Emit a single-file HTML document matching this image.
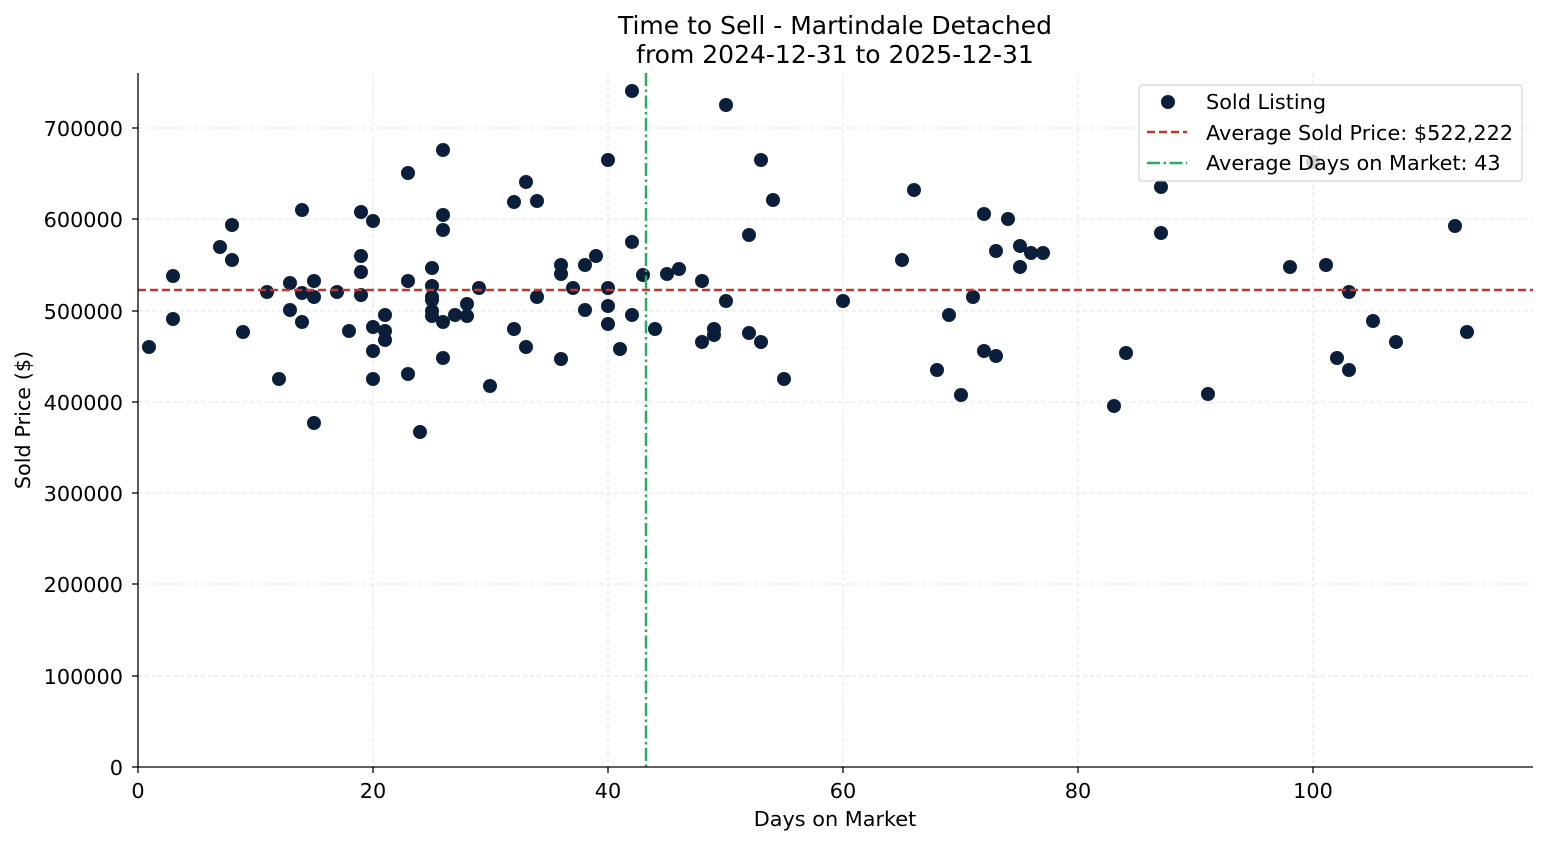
<!DOCTYPE html>
<html><head><meta charset="utf-8"><style>body{margin:0;background:#fff}svg{display:block}text{font-family:"DejaVu Sans","Liberation Sans",sans-serif;fill:#000}</style></head><body>
<svg width="1547" height="845" xmlns="http://www.w3.org/2000/svg">
<rect width="1547" height="845" fill="#fff"/>
<g stroke="#d9d9d9" stroke-width="0.8" stroke-dasharray="4,3">
<line x1="373" y1="73" x2="373" y2="767"/><line x1="608" y1="73" x2="608" y2="767"/><line x1="843" y1="73" x2="843" y2="767"/><line x1="1078" y1="73" x2="1078" y2="767"/><line x1="1313" y1="73" x2="1313" y2="767"/>
<line x1="138" y1="676" x2="1533" y2="676"/><line x1="138" y1="584" x2="1533" y2="584"/><line x1="138" y1="493" x2="1533" y2="493"/><line x1="138" y1="402" x2="1533" y2="402"/><line x1="138" y1="311" x2="1533" y2="311"/><line x1="138" y1="219" x2="1533" y2="219"/><line x1="138" y1="128" x2="1533" y2="128"/>
</g>
<g fill="#0b1f3b">
<circle cx="149" cy="347" r="7"/><circle cx="173" cy="276" r="7"/><circle cx="173" cy="319" r="7"/><circle cx="220" cy="247" r="7"/><circle cx="232" cy="225" r="7"/><circle cx="232" cy="260" r="7"/><circle cx="243" cy="332" r="7"/><circle cx="267" cy="292" r="7"/><circle cx="279" cy="379" r="7"/><circle cx="290" cy="283" r="7"/><circle cx="290" cy="310" r="7"/><circle cx="302" cy="210" r="7"/><circle cx="302" cy="293" r="7"/><circle cx="302" cy="322" r="7"/><circle cx="314" cy="281" r="7"/><circle cx="314" cy="297" r="7"/><circle cx="314" cy="423" r="7"/><circle cx="337" cy="292" r="7"/><circle cx="349" cy="331" r="7"/><circle cx="361" cy="212" r="7"/><circle cx="361" cy="256" r="7"/><circle cx="361" cy="272" r="7"/><circle cx="361" cy="295" r="7"/><circle cx="373" cy="221" r="7"/><circle cx="373" cy="327" r="7"/><circle cx="373" cy="351" r="7"/><circle cx="373" cy="379" r="7"/><circle cx="385" cy="315" r="7"/><circle cx="385" cy="331" r="7"/><circle cx="385" cy="340" r="7"/><circle cx="408" cy="173" r="7"/><circle cx="408" cy="281" r="7"/><circle cx="408" cy="374" r="7"/><circle cx="420" cy="432" r="7"/><circle cx="432" cy="268" r="7"/><circle cx="432" cy="286" r="7"/><circle cx="432" cy="297" r="7"/><circle cx="432" cy="300" r="7"/><circle cx="432" cy="311" r="7"/><circle cx="432" cy="316" r="7"/><circle cx="443" cy="150" r="7"/><circle cx="443" cy="215" r="7"/><circle cx="443" cy="230" r="7"/><circle cx="443" cy="322" r="7"/><circle cx="443" cy="358" r="7"/><circle cx="455" cy="315" r="7"/><circle cx="467" cy="304" r="7"/><circle cx="467" cy="316" r="7"/><circle cx="479" cy="288" r="7"/><circle cx="490" cy="386" r="7"/><circle cx="514" cy="202" r="7"/><circle cx="514" cy="329" r="7"/><circle cx="526" cy="182" r="7"/><circle cx="526" cy="347" r="7"/><circle cx="537" cy="201" r="7"/><circle cx="537" cy="297" r="7"/><circle cx="561" cy="265" r="7"/><circle cx="561" cy="274" r="7"/><circle cx="561" cy="359" r="7"/><circle cx="573" cy="288" r="7"/><circle cx="585" cy="265" r="7"/><circle cx="585" cy="310" r="7"/><circle cx="596" cy="256" r="7"/><circle cx="608" cy="160" r="7"/><circle cx="608" cy="288" r="7"/><circle cx="608" cy="306" r="7"/><circle cx="608" cy="324" r="7"/><circle cx="620" cy="349" r="7"/><circle cx="632" cy="91" r="7"/><circle cx="632" cy="242" r="7"/><circle cx="632" cy="315" r="7"/><circle cx="643" cy="275" r="7"/><circle cx="655" cy="329" r="7"/><circle cx="667" cy="274" r="7"/><circle cx="679" cy="269" r="7"/><circle cx="702" cy="281" r="7"/><circle cx="702" cy="342" r="7"/><circle cx="714" cy="335" r="7"/><circle cx="714" cy="329" r="7"/><circle cx="726" cy="105" r="7"/><circle cx="726" cy="301" r="7"/><circle cx="749" cy="235" r="7"/><circle cx="749" cy="333" r="7"/><circle cx="761" cy="160" r="7"/><circle cx="761" cy="342" r="7"/><circle cx="773" cy="200" r="7"/><circle cx="784" cy="379" r="7"/><circle cx="843" cy="301" r="7"/><circle cx="902" cy="260" r="7"/><circle cx="914" cy="190" r="7"/><circle cx="937" cy="370" r="7"/><circle cx="949" cy="315" r="7"/><circle cx="961" cy="395" r="7"/><circle cx="973" cy="297" r="7"/><circle cx="984" cy="214" r="7"/><circle cx="984" cy="351" r="7"/><circle cx="996" cy="251" r="7"/><circle cx="996" cy="356" r="7"/><circle cx="1008" cy="219" r="7"/><circle cx="1020" cy="246" r="7"/><circle cx="1020" cy="267" r="7"/><circle cx="1031" cy="253" r="7"/><circle cx="1043" cy="253" r="7"/><circle cx="1114" cy="406" r="7"/><circle cx="1126" cy="353" r="7"/><circle cx="1161" cy="187" r="7"/><circle cx="1161" cy="233" r="7"/><circle cx="1208" cy="394" r="7"/><circle cx="1290" cy="267" r="7"/><circle cx="1313" cy="162" r="7"/><circle cx="1326" cy="265" r="7"/><circle cx="1337" cy="358" r="7"/><circle cx="1349" cy="292" r="7"/><circle cx="1349" cy="370" r="7"/><circle cx="1373" cy="321" r="7"/><circle cx="1396" cy="342" r="7"/><circle cx="1455" cy="226" r="7"/><circle cx="1467" cy="332" r="7"/>
</g>
<line x1="138" y1="290" x2="1533" y2="290" stroke="#c0392b" stroke-width="2.5" stroke-dasharray="8,4"/>
<line x1="646" y1="73" x2="646" y2="767" stroke="#27ae60" stroke-width="2.5" stroke-dasharray="13,3.5,2.5,3.5"/>
<g stroke="#000" stroke-width="1.3">
<line x1="138" y1="73" x2="138" y2="767"/><line x1="138" y1="767" x2="1533" y2="767"/>
<line x1="138" y1="767" x2="138" y2="773"/><line x1="373" y1="767" x2="373" y2="773"/><line x1="608" y1="767" x2="608" y2="773"/><line x1="843" y1="767" x2="843" y2="773"/><line x1="1078" y1="767" x2="1078" y2="773"/><line x1="1313" y1="767" x2="1313" y2="773"/>
<line x1="132" y1="767" x2="138" y2="767"/><line x1="132" y1="676" x2="138" y2="676"/><line x1="132" y1="584" x2="138" y2="584"/><line x1="132" y1="493" x2="138" y2="493"/><line x1="132" y1="402" x2="138" y2="402"/><line x1="132" y1="311" x2="138" y2="311"/><line x1="132" y1="219" x2="138" y2="219"/><line x1="132" y1="128" x2="138" y2="128"/>
</g>
<g font-size="20.8" text-anchor="middle">
<text x="138" y="798">0</text><text x="373" y="798">20</text><text x="608" y="798">40</text><text x="843" y="798">60</text><text x="1078" y="798">80</text><text x="1313" y="798">100</text>
</g>
<g font-size="20.8" text-anchor="end">
<text x="123" y="775">0</text><text x="123" y="684">100000</text><text x="123" y="592">200000</text><text x="123" y="501">300000</text><text x="123" y="410">400000</text><text x="123" y="319">500000</text><text x="123" y="227">600000</text><text x="123" y="136">700000</text>
</g>
<text x="835" y="826" font-size="20.8" text-anchor="middle">Days on Market</text>
<text x="30" y="420" font-size="20.8" text-anchor="middle" transform="rotate(-90 30 420)">Sold Price ($)</text>
<text x="835" y="34" font-size="25" text-anchor="middle">Time to Sell - Martindale Detached</text>
<text x="835" y="63" font-size="25" text-anchor="middle">from 2024-12-31 to 2025-12-31</text>
<rect x="1139" y="85" width="383" height="96" rx="3" fill="#fff" fill-opacity="0.8" stroke="#ccc"/>
<circle cx="1168" cy="102" r="7" fill="#0b1f3b"/>
<line x1="1147" y1="132" x2="1187" y2="132" stroke="#c0392b" stroke-width="2.5" stroke-dasharray="8,4"/>
<line x1="1147" y1="163" x2="1187" y2="163" stroke="#27ae60" stroke-width="2.5" stroke-dasharray="13,3.5,2.5,3.5"/>
<g font-size="20.8"><text x="1206" y="109">Sold Listing</text><text x="1206" y="140">Average Sold Price: $522,222</text><text x="1206" y="170">Average Days on Market: 43</text></g>
</svg>
</body></html>
